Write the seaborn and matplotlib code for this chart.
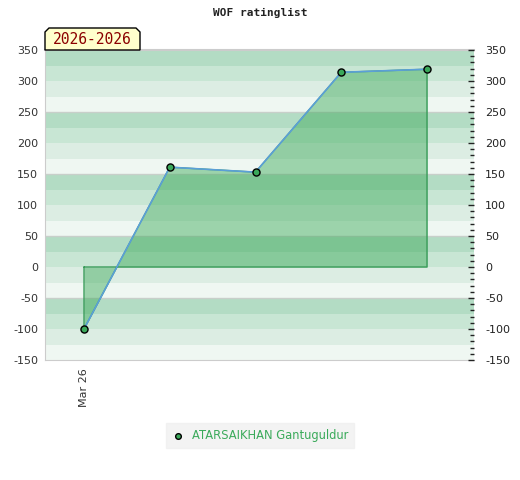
import numpy as np
import pandas as pd
import matplotlib
matplotlib.use("Agg")
import matplotlib.pyplot as plt
import matplotlib.patches as mpatches
import seaborn as sns

# data
games = [0, 1, 2, 3, 4]
dates = ["Mar 26", "", "", "", ""]
rating = [-100, 161, 153, 314, 319]
player = "ATARSAIKHAN Gantuguldur"
period = "2026-2026"

major_ticks = list(range(-150, 351, 50))
band_colors = ["#b3dcc4", "#c8e6d4", "#dcede3", "#eff7f2"]

sns.set_style("white")
plt.rcParams["font.family"] = ["DejaVu Sans"]

df = pd.DataFrame({"game": games, "rating": rating, "player": player})

fig = plt.figure(figsize=(5.2, 4.8), dpi=100)
ax = fig.add_axes([45 / 520, 120 / 480, 429 / 520, 310 / 480])

# striped background, 25-point bands
for i, lo in enumerate(range(325, -151, -25)):
    ax.axhspan(lo, lo + 25, color=band_colors[i % 4], lw=0, zorder=0)
for g in [250, 150, 50, -50]:
    ax.axhline(g, color="#c8cfca", lw=1, zorder=0.5)

# area to the zero line
xs = np.array(df["game"])
ys = np.array(df["rating"])
ax.fill_between(xs, ys, 0, color="#3ba958", alpha=0.46, lw=0, zorder=1)
poly_x = np.concatenate([[xs[0]], xs, [xs[-1], xs[0]]])
poly_y = np.concatenate([[0], ys, [0, 0]])
ax.plot(poly_x, poly_y, color="#3a9c5a", lw=1, zorder=1.5)

sns.lineplot(data=df, x="game", y="rating", color="#5b9fd8", lw=1.2,
             ax=ax, zorder=2, legend=False)
sns.scatterplot(data=df, x="game", y="rating", color="#3aa85a", edgecolor="black",
                linewidth=1, s=26, ax=ax, zorder=3, label=player, legend=False)

ax.set_xlim(-0.455, 4.548)
ax.set_ylim(-150, 350)
ax.set_xticks(games[:1])
ax.set_xticklabels(dates[:1], rotation=90, fontsize=8, color="#333333")
ax.set_yticks(major_ticks)
ax.set_yticklabels([str(t) for t in major_ticks], fontsize=8, color="#333333")
ax.set_xlabel("")
ax.set_ylabel("")
ax.tick_params(axis="x", length=0, pad=6)
ax.tick_params(axis="y", length=0, pad=5)

ax2 = ax.twinx()
ax2.set_ylim(-150, 350)
ax2.set_yticks(major_ticks)
ax2.set_yticklabels([str(t) for t in major_ticks], fontsize=8, color="#222222")
ax2.set_yticks(list(range(-150, 351, 10)), minor=True)
ax2.tick_params(axis="y", which="major", direction="in", length=4, width=1,
                color="#222222", pad=8)
ax2.tick_params(axis="y", which="minor", direction="in", length=3, width=1,
                color="#222222")

for a in (ax, ax2):
    for s in a.spines.values():
        s.set_visible(False)
ax.spines["left"].set_visible(True)
ax.spines["left"].set_color("#cccccc")
ax.spines["bottom"].set_visible(True)
ax.spines["bottom"].set_color("#cccccc")
ax.spines["top"].set_visible(True)
ax.spines["top"].set_color("#cccccc")
ax.spines["top"].set_linewidth(1.5)

fig.text(260 / 520, 1 - 13 / 480, "WOF ratinglist", ha="center", va="center",
         fontsize=8, fontweight="bold", family="DejaVu Sans Mono", color="#222222")

# period label with cut top corners
x0, x1, yt, yb = 45, 140, 28, 50
pts = [(x0, yb), (x0, yt + 4), (x0 + 4, yt), (x1 - 4, yt), (x1, yt + 4), (x1, yb)]
pts = [(px / 520, 1 - py / 480) for px, py in pts]
fig.patches.append(mpatches.Polygon(pts, closed=True, facecolor="#ffffcc",
                                    edgecolor="black", lw=1, transform=fig.transFigure,
                                    zorder=5))
fig.text((x0 + x1) / 2 / 520, 1 - 40 / 480, period, ha="center", va="center",
         fontsize=10.5, family="DejaVu Sans Mono", color="#8b0000", zorder=6)

handles, labels = ax.get_legend_handles_labels()
leg = fig.legend(handles, labels, loc="center", bbox_to_anchor=(260 / 520, 1 - 435.5 / 480),
                 frameon=True, fontsize=8.3, handletextpad=0.7, handlelength=1,
                 borderpad=0.5, markerscale=0.8)
leg.get_frame().set_facecolor("#f0f0f0")
leg.get_frame().set_edgecolor("#f0f0f0")
leg.get_frame().set_boxstyle("square", pad=0)
for t in leg.get_texts():
    t.set_color("#3aaa5a")

fig.savefig("out.png", dpi=100)
